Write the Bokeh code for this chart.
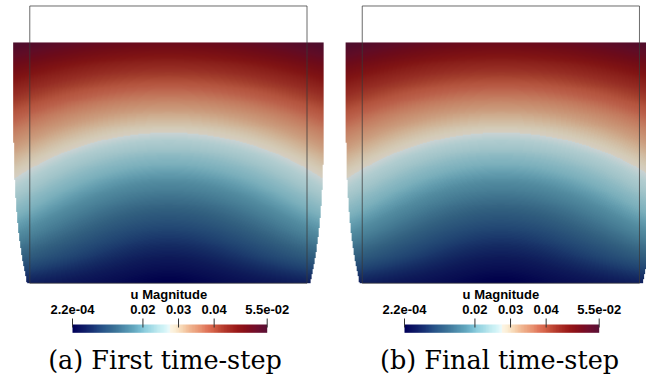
import numpy as np
from bokeh.plotting import figure
from bokeh.models import Range1d, LinearColorMapper
from bokeh.core.properties import value
from bokeh.embed import file_html
from bokeh.resources import INLINE

# ---------------- data ----------------
L = 0.38                                   # side of the undeformed square
z_frac = [0.0, 0.1, 0.2, 0.3, 0.4, 0.5, 0.6, 0.7, 0.8, 0.9, 1.0]   # height / L
uy_down = [0.0, 0.0038, 0.0078, 0.0122, 0.0168, 0.0216, 0.0268, 0.0322, 0.0379, 0.0438, 0.0500]
ux_edge = [0.0045, 0.0110, 0.0155, 0.0186, 0.0206, 0.0217, 0.0223, 0.0226, 0.0228, 0.0228, 0.0228]
u_min, u_max = 2.2e-4, 5.49e-2
tick_values = [2.2e-4, 0.02, 0.03, 0.04, 5.49e-2]
tick_labels = ["2.2e-04", "0.02", "0.03", "0.04", "5.5e-02"]
cbar_title = "u Magnitude"
captions = ["(a) First time-step", "(b) Final time-step"]

# ---------------- colormap (ParaView Cool to Warm Extended) ----------------
cmap_pts = [
    (0.0, 0.0, 0.0, 0.349), (0.03125, 0.039, 0.063, 0.380), (0.0625, 0.063, 0.118, 0.412),
    (0.09375, 0.090, 0.184, 0.451), (0.125, 0.125, 0.263, 0.502), (0.15625, 0.161, 0.337, 0.541),
    (0.1875, 0.200, 0.396, 0.569), (0.21875, 0.239, 0.455, 0.600), (0.25, 0.286, 0.522, 0.651),
    (0.28125, 0.337, 0.592, 0.702), (0.3125, 0.388, 0.655, 0.749), (0.34375, 0.467, 0.737, 0.820),
    (0.375, 0.573, 0.820, 0.878), (0.40625, 0.655, 0.867, 0.910), (0.4375, 0.753, 0.918, 0.941),
    (0.46875, 0.824, 0.957, 0.969), (0.4999, 0.941, 0.984, 0.988), (0.5001, 0.988, 0.961, 0.902),
    (0.52, 0.988, 0.945, 0.851), (0.54, 0.980, 0.898, 0.784), (0.5625, 0.969, 0.835, 0.698),
    (0.59375, 0.949, 0.733, 0.588), (0.625, 0.929, 0.651, 0.510), (0.65625, 0.910, 0.565, 0.435),
    (0.6875, 0.878, 0.459, 0.353), (0.71875, 0.839, 0.388, 0.286), (0.75, 0.761, 0.294, 0.212),
    (0.78125, 0.702, 0.212, 0.169), (0.8125, 0.651, 0.157, 0.129), (0.84375, 0.600, 0.094, 0.094),
    (0.875, 0.549, 0.067, 0.098), (0.90625, 0.502, 0.051, 0.125), (0.9375, 0.451, 0.055, 0.173),
    (0.96875, 0.400, 0.055, 0.192), (1.0, 0.349, 0.071, 0.212),
]


def make_palette(n, shade):
    xp = [c[0] for c in cmap_pts]
    s = np.linspace(0, 1, n)
    out = []
    for t in s:
        r, g, b = (np.interp(t, xp, [c[k] for c in cmap_pts]) for k in (1, 2, 3))
        out.append("#%02x%02x%02x" % tuple(int(round(255 * shade * v)) for v in (r, g, b)))
    return out


bar_pal = make_palette(256, 1.0)
field_pal = make_palette(256, 0.84)

# ---------------- layout constants (pixels) ----------------
W, H = 646, 387
PX = 729.5             # px per unit
X0_PAGE = 167.9        # x of panel (a) centre
Z0_PAGE = 282.7        # y of bottom of square
DX = 332.45 / PX       # offset of panel (b)


def zy(py):
    return (Z0_PAGE - py) / PX


def xx(px):
    return (px - X0_PAGE) / PX


p = figure(width=W, height=H, output_backend="svg", toolbar_location=None,
           x_range=Range1d(xx(0), xx(W)), y_range=Range1d(zy(H), zy(0)),
           min_border=0, outline_line_color=None, background_fill_color="white",
           border_fill_color="white")
p.axis.visible = False
p.grid.visible = False

# colorbar value ranges (one per panel)
k = 194.7 / (u_max - u_min)
p.extra_x_ranges = {
    "cba": Range1d(u_min - 72 / k, u_min - 72 / k + W / k),
    "cbb": Range1d(u_min - 404 / k, u_min - 404 / k + W / k),
}

# ---------------- field on the deformed mesh ----------------
Zn = np.array(z_frac) * L
uy = np.array(uy_down)
ux = np.array(ux_edge)
xmax = L / 2 + ux.max()
zd_top = L - uy[-1]
nx, ny = 640, 500
xs = np.linspace(-xmax, xmax, nx)
zs = np.linspace(0, zd_top, ny)
Zf = np.linspace(0, L, 4001)
zdf = Zf - np.interp(Zf, Zn, uy)
Zr = np.interp(zs, zdf, Zf)
h = np.interp(Zr, Zn, ux)
uyr = np.interp(Zr, Zn, uy)
Xr = xs[None, :] / (1 + 2 * h[:, None] / L)
mag = np.sqrt((Xr * 2 * h[:, None] / L) ** 2 + uyr[:, None] ** 2)
mag[np.abs(Xr) > L / 2] = np.nan

field_mapper = LinearColorMapper(palette=field_pal, low=u_min, high=u_max,
                                 low_color=field_pal[0], high_color=field_pal[-1],
                                 nan_color="rgba(0, 0, 0, 0)")
bar_mapper = LinearColorMapper(palette=bar_pal, low=u_min, high=u_max)

for off in (0.0, DX):
    p.image(image=[mag], x=-xmax + off, y=0, dw=2 * xmax, dh=zd_top, color_mapper=field_mapper)

p.quad(left=[-L / 2, -L / 2 + DX], right=[L / 2, L / 2 + DX], bottom=[0, 0], top=[L, L],
       fill_color=None, line_color="#3a3a3a", line_alpha=0.75, line_width=1)

# ---------------- colour bars ----------------
grad = np.linspace(u_min, u_max, 512)[None, :]
for rn in ("cba", "cbb"):
    p.image(image=[grad], x=u_min, y=zy(332.3), dw=u_max - u_min, dh=zy(324) - zy(332.3),
            color_mapper=bar_mapper, x_range_name=rn)
    p.segment(x0=tick_values, x1=tick_values, y0=[zy(318)] * len(tick_values),
              y1=[zy(327)] * len(tick_values), line_color="#333333", line_width=1,
              x_range_name=rn)
    p.text(x=tick_values, y=[zy(308.5)] * len(tick_values), text=tick_labels,
           text_font=value("Liberation Sans"), text_font_size="13px", text_color="black",
           text_font_style="bold",
           text_align="center", text_baseline="alphabetic", x_range_name=rn)
    p.text(x=[(u_min + u_max) / 2 - 1.0 / k], y=[zy(293.6)], text=[cbar_title],
           text_font=value("Liberation Sans"), text_font_size="13px", text_color="black",
           text_font_style="bold",
           text_align="center", text_baseline="alphabetic", x_range_name=rn)

# ---------------- captions ----------------
p.text(x=[xx(164.5), xx(499.0)], y=[zy(359.6)] * 2, text=captions,
       text_font=value("DejaVu Serif"), text_font_size="25.5px", text_color="black",
       text_align="center", text_baseline="alphabetic")

open("out.html", "w").write(file_html(p, INLINE))
